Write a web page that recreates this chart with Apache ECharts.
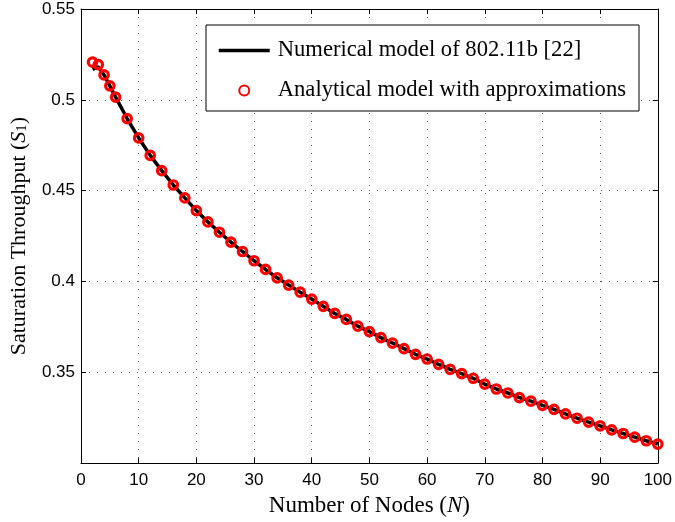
<!DOCTYPE html>
<html>
<head>
<meta charset="utf-8">
<script src="https://cdn.jsdelivr.net/npm/echarts@6/dist/echarts.min.js"></script>
<style>
html,body{margin:0;padding:0;background:#fff;}
#chart{width:675px;height:522px;}
</style>
</head>
<body>
<div id="chart"></div>
<script>
// Number of nodes N (x values)
var nodes = [2,3,4,5,6,8,10,12,14,16,18,20,22,24,26,28,30,32,34,36,38,40,42,44,46,48,50,52,54,56,58,60,62,64,66,68,70,72,74,76,78,80,82,84,86,88,90,92,94,96,98,100];
// Analytical model with approximations (red circles)
var analytical = [0.5207,0.5194,0.5137,0.5077,0.5015,0.4897,0.4790,0.4694,0.4610,0.4531,0.4460,0.4390,0.4328,0.4271,0.4217,0.4165,0.4114,0.4066,0.4020,0.3980,0.3941,0.3903,0.3863,0.3824,0.3791,0.3754,0.3724,0.3691,0.3661,0.3630,0.3599,0.3573,0.3544,0.3516,0.3493,0.3467,0.3435,0.3408,0.3386,0.3361,0.3341,0.3318,0.3296,0.3271,0.3247,0.3226,0.3205,0.3183,0.3163,0.3143,0.3123,0.3105];
// Numerical model of 802.11b [22] (black line)
var numerical = [0.5168,0.5182,0.5137,0.5077,0.5015,0.4897,0.4790,0.4694,0.4610,0.4531,0.4460,0.4390,0.4328,0.4271,0.4217,0.4165,0.4114,0.4066,0.4020,0.3980,0.3941,0.3903,0.3863,0.3824,0.3791,0.3754,0.3724,0.3691,0.3661,0.3630,0.3599,0.3573,0.3544,0.3516,0.3493,0.3467,0.3435,0.3408,0.3386,0.3361,0.3341,0.3318,0.3296,0.3271,0.3247,0.3226,0.3205,0.3183,0.3163,0.3143,0.3123,0.3105];
var seriesNames = ['Numerical model of 802.11b [22]', 'Analytical model with approximations'];
var xTitle = 'Number of Nodes (';
var yTitle = 'Saturation Throughput (';

function pairs(xs, ys){ return xs.map(function(x,i){ return [x, ys[i]]; }); }

var serif = '"Liberation Serif", "Times New Roman", serif';
var sans = '"Liberation Sans", Arial, Helvetica, sans-serif';
var gridLine = { show: true, lineStyle: { color: '#555', width: 1, type: [1, 7] } };
var tickIn = { show: true, inside: true, length: 5, lineStyle: { color: '#000', width: 1 } };
var axLine = { show: true, onZero: false, lineStyle: { color: '#000', width: 1 } };

var chart = echarts.init(document.getElementById('chart'), null, { renderer: 'canvas' });
chart.setOption({
  animation: false,
  backgroundColor: '#fff',
  grid: { left: 77, right: 15, top: 9, bottom: 56 },
  xAxis: [{
    type: 'value', min: 0, max: 100, interval: 10, position: 'bottom',
    axisLine: axLine, axisTick: tickIn, splitLine: gridLine,
    axisLabel: { color: '#000', fontFamily: sans, fontSize: 17, margin: 9 },
    name: '{a|' + xTitle + '}{i|N}{a|)}', nameLocation: 'middle', nameGap: 27,
    nameTextStyle: { rich: {
      a: { fontFamily: serif, fontSize: 23, color: '#000' },
      i: { fontFamily: serif, fontSize: 23, fontStyle: 'italic', color: '#000' }
    } }
  }, {
    type: 'value', min: 0, max: 100, interval: 10, position: 'top',
    axisLine: axLine, axisTick: tickIn, splitLine: { show: false }, axisLabel: { show: false }
  }],
  yAxis: [{
    type: 'value', min: 0.3, max: 0.55, interval: 0.05, position: 'left',
    axisLine: axLine, axisTick: tickIn, splitLine: gridLine,
    axisLabel: { color: '#000', fontFamily: sans, fontSize: 17, margin: 6,
      formatter: function(v){ return v < 0.31 ? '' : String(+v.toFixed(2)); } },
    name: '{a|' + yTitle + '}{i|S}{s|1}{a|)}', nameLocation: 'middle', nameGap: 51, nameRotate: 90,
    nameTextStyle: { rich: {
      a: { fontFamily: serif, fontSize: 22, color: '#000', verticalAlign: 'bottom', lineHeight: 26 },
      i: { fontFamily: serif, fontSize: 22, fontStyle: 'italic', color: '#000', verticalAlign: 'bottom', lineHeight: 26 },
      s: { fontFamily: serif, fontSize: 15, color: '#000', verticalAlign: 'bottom', lineHeight: 20 }
    } }
  }, {
    type: 'value', min: 0.3, max: 0.55, interval: 0.05, position: 'right',
    axisLine: axLine, axisTick: tickIn, splitLine: { show: false }, axisLabel: { show: false }
  }],
  legend: {
    orient: 'vertical', left: 206, top: 25,
    padding: [14, 13, 9, 11], itemGap: 17, itemWidth: 51, itemHeight: 10,
    backgroundColor: '#fff', borderColor: '#000', borderWidth: 1, borderRadius: 0,
    textStyle: { fontFamily: serif, fontSize: 22.6, color: '#000', padding: [0, 0, 0, 3] },
    data: [
      { name: seriesNames[0], itemStyle: { opacity: 0 }, lineStyle: { width: 3.5, color: '#000' } },
      { name: seriesNames[1], icon: 'circle' }
    ]
  },
  series: [{
    name: seriesNames[0], type: 'line', data: pairs(nodes, numerical),
    symbol: 'none', lineStyle: { color: '#000', width: 3.5 }, itemStyle: { color: '#000' }, z: 2
  }, {
    name: seriesNames[1], type: 'scatter', data: pairs(nodes, analytical),
    symbol: 'circle', symbolSize: 8.5,
    itemStyle: { color: 'rgba(255,255,255,0)', borderColor: '#ff0000', borderWidth: 3.2, opacity: 1 }, z: 3
  }]
});
</script>
</body>
</html>
